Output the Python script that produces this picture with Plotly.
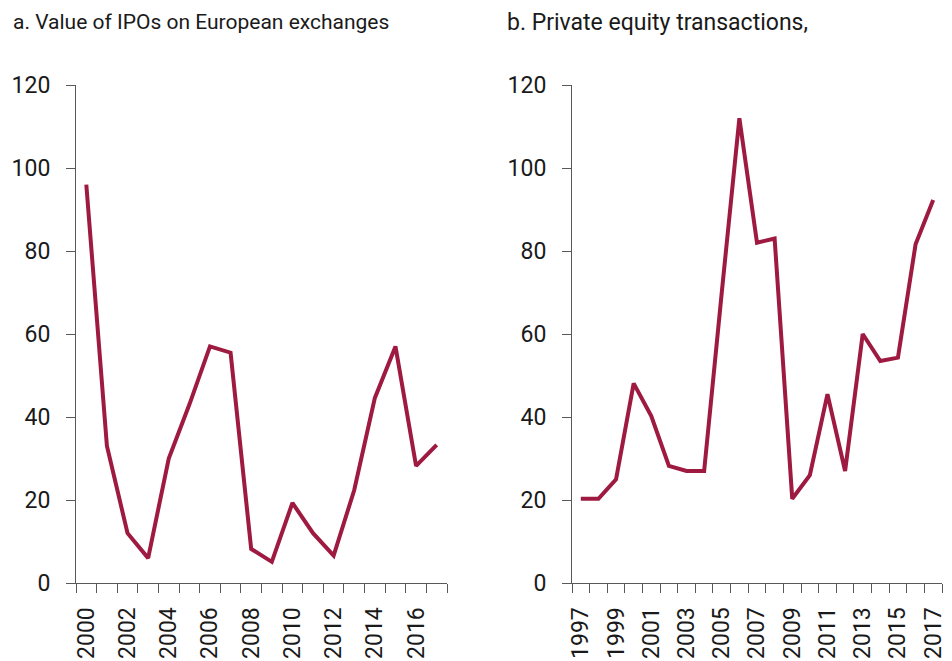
import plotly.graph_objects as go

# Panel a: value of IPOs on European exchanges
years_a = list(range(2000, 2018))
ipo_values = [96, 33, 12, 6, 30, 43, 57, 55.5, 8.2, 5.1, 19.3, 12, 6.6, 22.4, 44.6, 57, 28.2, 33.3]
ticks_a = [2000, 2002, 2004, 2006, 2008, 2010, 2012, 2014, 2016]

# Panel b: private equity transactions
years_b = list(range(1997, 2018))
pe_values = [20.3, 20.3, 25, 48.1, 40.2, 28.2, 27, 27, 70, 112, 82, 83, 20.3, 26, 45.5, 27, 60, 53.5, 54.3, 81.6, 92.3]
ticks_b = [1997, 1999, 2001, 2003, 2005, 2007, 2009, 2011, 2013, 2015, 2017]

y_ticks = [0, 20, 40, 60, 80, 100, 120]

title_a = "a. Value of IPOs on European exchanges"
title_b = "b. Private equity transactions,"

LINE = "#9E1A40"
AXIS = "#595959"
TXT = "#1a1a1a"
W, H = 952, 661
OFF = 8  # page offset of the plot div

def px(v):
    return (v - OFF) / W

def py(v):
    return 1 - (v - OFF) / H

fig = go.Figure()
fig.add_trace(go.Scatter(x=years_a, y=ipo_values, mode="lines",
                         line=dict(color=LINE, width=4), xaxis="x", yaxis="y",
                         showlegend=False, hoverinfo="x+y"))
fig.add_trace(go.Scatter(x=years_b, y=pe_values, mode="lines",
                         line=dict(color=LINE, width=4), xaxis="x2", yaxis="y2",
                         showlegend=False, hoverinfo="x+y"))

tickfont = dict(family="Roboto", size=23, color=TXT)

def xaxis(dom, rng, tv, anchor):
    return dict(domain=dom, range=rng, anchor=anchor, tickmode="array", tickvals=tv,
                ticktext=[str(v) for v in tv], tickangle=-90, ticks="",
                ticklabelstandoff=14, tickfont=tickfont,
                showline=True, linecolor=AXIS, linewidth=1, showgrid=False,
                zeroline=False, automargin=False, fixedrange=True,
                minor=dict(tick0=rng[0], dtick=1, ticks="outside", ticklen=9,
                           tickcolor=AXIS, tickwidth=1, showgrid=False))

def yaxis(anchor):
    return dict(domain=[py(583), py(85)], range=[0, 120], anchor=anchor,
                tickmode="array", tickvals=y_ticks, ticks="outside", ticklen=9,
                tickcolor=AXIS, tickwidth=1, tickfont=tickfont, ticklabelstandoff=11,
                showline=True, linecolor=AXIS, linewidth=1, showgrid=False,
                zeroline=False, automargin=False, fixedrange=True)

fig.update_layout(
    width=W, height=H,
    margin=dict(l=0, r=0, t=0, b=0),
    paper_bgcolor="white", plot_bgcolor="white",
    xaxis=xaxis([px(76), px(447)], [years_a[0] - 0.5, years_a[-1] + 0.5], ticks_a, "y"),
    yaxis=yaxis("x"),
    xaxis2=xaxis([px(572), px(942)], [years_b[0] - 0.5, years_b[-1] + 0.5], ticks_b, "y2"),
    yaxis2=yaxis("x2"),
    annotations=[
        dict(text=title_a, x=px(11), y=py(8), xref="paper", yref="paper",
             xanchor="left", yanchor="top", showarrow=False,
             font=dict(family="Roboto", size=21, color=TXT)),
        dict(text=title_b, x=px(505), y=py(7), xref="paper", yref="paper",
             xanchor="left", yanchor="top", showarrow=False,
             font=dict(family="Roboto", size=23, color=TXT)),
    ],
)

fig.write_html("out.html")
